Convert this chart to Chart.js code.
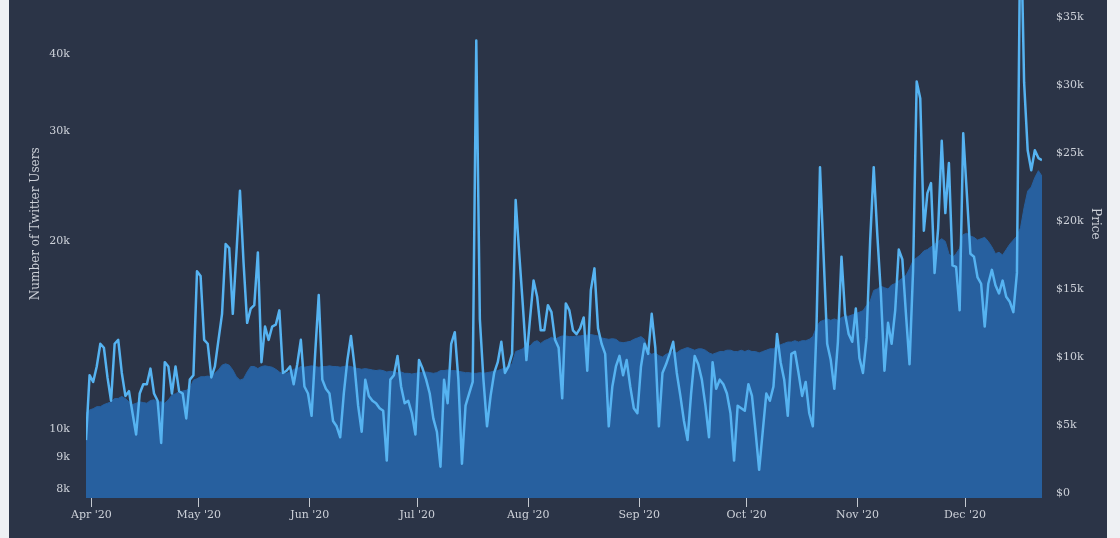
<!DOCTYPE html>
<html>
<head>
<meta charset="utf-8">
<script src="https://cdn.jsdelivr.net/npm/chart.js@4.4.1/dist/chart.umd.min.js"></script>
<style>
  html, body { margin: 0; padding: 0; }
  body { width: 1120px; height: 538px; position: relative; overflow: hidden; background: #eef0f3; }
  #frame { position: absolute; left: 9px; top: -73px; width: 1098px; height: 611px; background: #2b3447; }
</style>
</head>
<body>
<div id="frame"><canvas id="twitterPriceChart" width="1098" height="611"></canvas></div>
<script>
// days counted from 1 Apr 2020; first sample is 30 Mar, one sample per day
const firstDay = -2;
const monthStarts = [0, 30, 61, 91, 122, 153, 183, 214, 244];
const monthLabels = ["Apr '20", "May '20", "Jun '20", "Jul '20", "Aug '20", "Sep '20", "Oct '20", "Nov '20", "Dec '20"];
const userTicks = [8, 9, 10, 20, 30, 40, 50];
const priceTicks = [0, 5, 10, 15, 20, 25, 30, 35];

// thousands of users per day
const usersK = [
  9.6, 12.2, 11.9, 12.6, 13.7, 13.5, 12.1, 11.1, 13.7, 13.9,
  12.3, 11.3, 11.5, 10.6, 9.8, 11.4, 11.8, 11.8, 12.5, 11.4,
  11.1, 9.5, 12.8, 12.6, 11.4, 12.6, 11.5, 11.4, 10.4, 12.0,
  12.2, 17.9, 17.6, 13.9, 13.7, 12.1, 12.6, 13.9, 15.3, 19.8,
  19.5, 15.3, 19.1, 24.1, 18.5, 14.8, 15.6, 15.8, 19.2, 12.8,
  14.6, 13.9, 14.6, 14.7, 15.5, 12.3, 12.4, 12.6, 11.8, 12.7,
  13.9, 11.7, 11.4, 10.5, 13.2, 16.4, 12.0, 11.6, 11.4, 10.3,
  10.1, 9.7, 11.4, 12.9, 14.1, 12.6, 10.9, 9.9, 12.0, 11.3,
  11.1, 11.0, 10.8, 10.7, 8.9, 12.0, 12.2, 13.1, 11.7, 11.0,
  11.1, 10.6, 9.8, 12.9, 12.5, 12.0, 11.4, 10.4, 9.9, 8.7,
  12.0, 11.0, 13.7, 14.3, 12.0, 8.8, 10.9, 11.4, 11.9, 42.0,
  15.0, 12.0, 10.1, 11.3, 12.3, 12.8, 13.8, 12.3, 12.6, 13.2,
  23.3, 19.1, 15.8, 12.9, 15.0, 17.3, 16.3, 14.4, 14.4, 15.8,
  15.4, 13.9, 13.5, 11.2, 15.9, 15.5, 14.4, 14.2, 14.5, 15.1,
  12.4, 16.7, 18.1, 14.5, 13.7, 13.2, 10.1, 11.7, 12.6, 13.1,
  12.2, 12.9, 11.7, 10.8, 10.6, 12.6, 13.7, 13.2, 15.3, 13.5,
  10.1, 12.3, 12.7, 13.2, 13.8, 12.3, 11.3, 10.3, 9.6, 11.4,
  13.1, 12.7, 12.0, 10.9, 9.7, 12.8, 11.6, 12.0, 11.8, 11.4,
  10.6, 8.9, 10.9, 10.8, 10.7, 11.8, 11.3, 9.9, 8.6, 9.9,
  11.4, 11.1, 11.7, 14.2, 12.8, 12.0, 10.5, 13.2, 13.3, 12.3,
  11.3, 11.9, 10.6, 10.1, 14.4, 26.3, 19.0, 13.7, 12.9, 11.6,
  13.8, 18.9, 15.3, 14.2, 13.8, 15.6, 13.0, 12.3, 14.0, 20.0,
  26.3, 20.5, 16.5, 12.4, 14.8, 13.7, 15.5, 19.4, 18.7, 15.3,
  12.7, 18.0, 36.1, 33.9, 20.8, 23.9, 24.8, 17.8, 21.0, 29.0,
  22.2, 26.7, 18.3, 18.2, 15.5, 29.8, 23.9, 19.1, 18.9, 17.5,
  17.1, 14.6, 17.1, 18.0, 17.0, 16.5, 17.3, 16.3, 16.0, 15.4,
  17.8, 70.0, 36.0, 28.0, 26.0, 28.0, 27.2, 27.0
];

// price in thousands of dollars per day
const priceK = [
  5.9, 6.1, 6.2, 6.35, 6.35, 6.5, 6.6, 6.7, 6.95, 6.95,
  7.1, 6.95, 6.7, 6.5, 6.6, 6.7, 6.65, 6.6, 6.8, 6.85,
  6.7, 6.7, 6.6, 6.85, 7.2, 7.3, 7.45, 7.5, 7.55, 7.7,
  8.3, 8.4, 8.55, 8.55, 8.6, 8.55, 8.8, 9.05, 9.4, 9.5,
  9.4, 9.05, 8.55, 8.3, 8.4, 8.9, 9.3, 9.3, 9.15, 9.3,
  9.35, 9.3, 9.25, 9.1, 8.9, 8.75, 8.8, 8.9, 9.1, 9.15,
  9.3, 9.25, 9.3, 9.35, 9.3, 9.25, 9.3, 9.3, 9.35, 9.3,
  9.3, 9.25, 9.3, 9.35, 9.3, 9.2, 9.15, 9.1, 9.15, 9.1,
  9.05, 9.0, 9.05, 9.0, 8.9, 8.95, 8.9, 8.85, 8.9, 8.8,
  8.8, 8.75, 8.8, 8.85, 8.85, 8.9, 8.85, 8.8, 8.85, 9.0,
  9.0, 9.05, 9.0, 9.0, 8.95, 8.9, 8.85, 8.85, 8.8, 8.8,
  8.85, 8.8, 8.85, 8.9, 8.95, 9.0, 9.1, 9.2, 9.3, 9.5,
  10.4, 10.5, 10.6, 10.9, 10.8, 11.1, 11.2, 11.0, 11.2, 11.3,
  11.45, 11.3, 11.45, 11.55, 11.55, 11.5, 11.5, 11.55, 11.55, 11.6,
  11.6, 11.65, 11.6, 11.55, 11.4, 11.35, 11.3, 11.35, 11.3, 11.1,
  11.05, 11.1, 11.15, 11.3, 11.4, 11.5, 11.3, 10.4, 10.2, 10.3,
  10.1, 10.0, 10.2, 10.3, 10.4, 10.3, 10.5, 10.6, 10.7, 10.6,
  10.5, 10.6, 10.6, 10.5, 10.3, 10.2, 10.3, 10.4, 10.4, 10.5,
  10.5, 10.4, 10.4, 10.5, 10.4, 10.5, 10.4, 10.4, 10.3, 10.4,
  10.5, 10.6, 10.6, 10.8, 10.9, 11.0, 11.1, 11.1, 11.2, 11.1,
  11.2, 11.2, 11.3, 11.5, 12.2, 12.6, 12.7, 12.8, 12.7, 12.8,
  12.7, 12.9, 13.0, 13.0, 13.1, 13.2, 13.3, 13.4, 13.8, 14.1,
  14.9, 15.0, 15.2, 15.1, 15.0, 15.3, 15.4, 15.6, 15.8, 16.0,
  16.5, 17.1, 17.3, 17.5, 17.8, 17.9, 18.1, 18.3, 18.5, 18.7,
  18.5, 17.6, 17.3, 17.6, 18.0, 19.0, 19.1, 18.9, 18.8, 18.6,
  18.7, 18.8, 18.5, 18.1, 17.6, 17.7, 17.5, 17.9, 18.3, 18.6,
  18.9, 19.5, 21.0, 22.2, 22.5, 23.2, 23.7, 23.3
];

document.addEventListener('DOMContentLoaded', function () {
    const ctx = document.getElementById('twitterPriceChart');
    if (!ctx) return;

    const textColor = '#cdd1d9';
    const tickFont = { family: "'DejaVu Serif', serif", size: 11 };
    const titleFont = { family: "'DejaVu Serif', serif", size: 12 };

    // samples are stamped mid-day
    const userPoints = usersK.map((v, i) => ({ x: firstDay + i + 0.5, y: v }));
    const pricePoints = priceK.map((v, i) => ({ x: firstDay + i + 0.5, y: v }));
    const lastX = firstDay + usersK.length - 1 + 0.5;

    new Chart(ctx, {
        type: 'line',
        data: {
            datasets: [{
                label: 'Number of Twitter Users',
                data: userPoints,
                yAxisID: 'users',
                borderColor: '#56b3f1',
                borderWidth: 2.5,
                borderJoinStyle: 'round',
                pointRadius: 0,
                tension: 0,
                fill: false,
                order: 0
            }, {
                label: 'Price',
                data: pricePoints,
                yAxisID: 'price',
                borderColor: '#27609f',
                backgroundColor: '#27609f',
                borderWidth: 1,
                pointRadius: 0,
                tension: 0,
                fill: 'start',
                order: 1
            }]
        },
        options: {
            responsive: false,
            animation: false,
            devicePixelRatio: 1,
            layout: { padding: 0 },
            plugins: {
                legend: { display: false },
                tooltip: { enabled: false }
            },
            scales: {
                x: {
                    type: 'linear',
                    min: firstDay + 0.5,
                    max: lastX,
                    afterBuildTicks: (scale) => { scale.ticks = monthStarts.map(v => ({ value: v })); },
                    afterFit: (scale) => { scale.height = 40; },
                    ticks: {
                        color: textColor,
                        font: tickFont,
                        padding: 2,
                        autoSkip: false,
                        maxRotation: 0,
                        callback: (value, index) => monthLabels[index]
                    },
                    grid: { drawOnChartArea: false, drawTicks: true, tickLength: 9, color: '#c3c8d0' },
                    border: { display: false }
                },
                users: {
                    type: 'logarithmic',
                    position: 'left',
                    min: 7.751,
                    max: 58.74,
                    afterBuildTicks: (scale) => { scale.ticks = userTicks.map(v => ({ value: v })); },
                    afterFit: (scale) => { scale.width = 77; },
                    ticks: {
                        color: textColor,
                        font: tickFont,
                        padding: 16,
                        callback: (value) => value + 'k'
                    },
                    title: {
                        display: true,
                        text: 'Number of Twitter Users',
                        color: textColor,
                        font: titleFont,
                        padding: { top: 20, bottom: 0 }
                    },
                    grid: { display: false, drawTicks: false },
                    border: { display: false }
                },
                price: {
                    type: 'linear',
                    position: 'right',
                    min: -0.368,
                    max: 39.96,
                    afterBuildTicks: (scale) => { scale.ticks = priceTicks.map(v => ({ value: v })); },
                    afterFit: (scale) => { scale.width = 65; },
                    ticks: {
                        color: textColor,
                        font: tickFont,
                        padding: 14,
                        callback: (value) => value === 0 ? '$0' : '$' + value + 'k'
                    },
                    title: {
                        display: true,
                        text: 'Price',
                        color: textColor,
                        font: titleFont,
                        padding: { top: 5, bottom: 0 }
                    },
                    grid: { display: false, drawTicks: false },
                    border: { display: false }
                }
            }
        }
    });
});
</script>
</body>
</html>
